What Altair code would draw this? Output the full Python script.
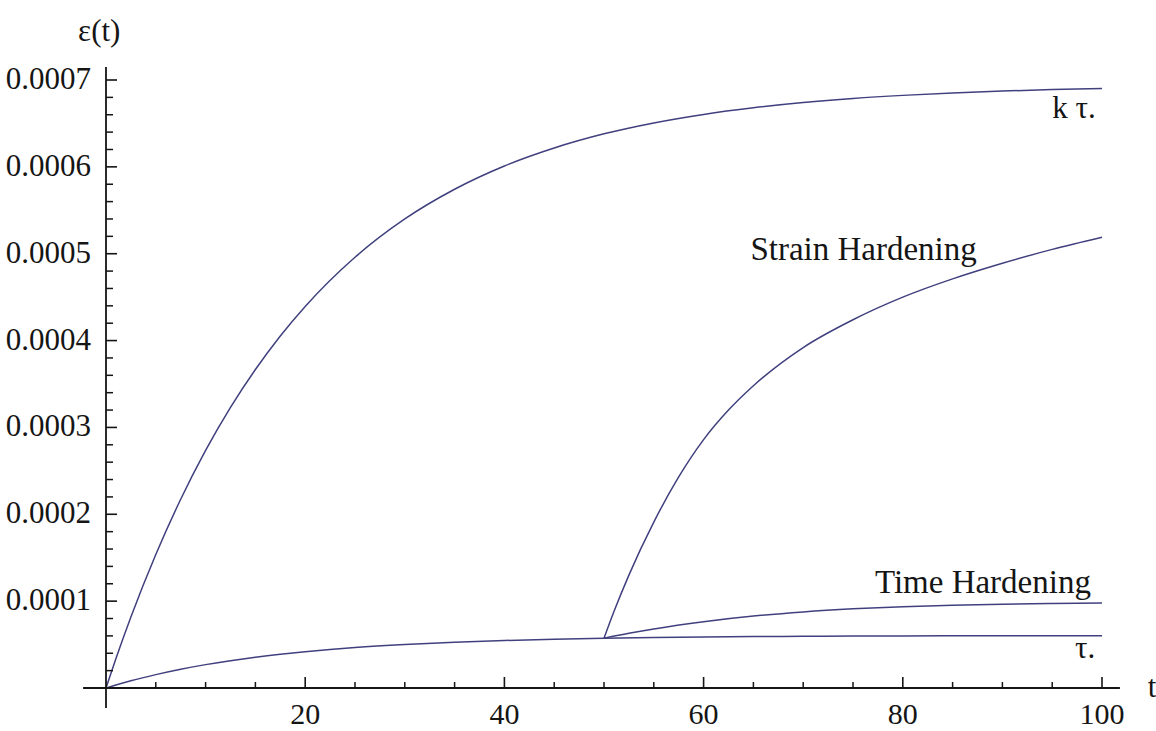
import altair as alt
import pandas as pd

# ---- creep curves -------------------------------------------------------
t_main = [0, 1, 2.5, 5, 7.5, 10, 12.5, 15, 17.5, 20, 25, 30, 35, 40, 45, 50,
          55, 60, 65, 70, 75, 80, 85, 90, 95, 100]

# creep under the raised stress (k tau)
eps_ktau = [0.0, 0.0000339, 0.0000817, 0.0001537, 0.0002173, 0.0002735,
            0.000323, 0.0003667, 0.0004053, 0.0004393, 0.0004959, 0.00054,
            0.0005742, 0.000601, 0.0006217, 0.000638, 0.0006506, 0.0006604,
            0.000668, 0.000674, 0.0006787, 0.0006823, 0.0006851, 0.0006873,
            0.000689, 0.0006903]

# creep under the base stress (tau)
eps_tau = [0.0, 0.00000345, 0.0000083, 0.0000154, 0.0000216, 0.0000269,
           0.0000315, 0.0000355, 0.0000389, 0.0000418, 0.0000466, 0.0000501,
           0.0000528, 0.0000547, 0.0000562, 0.0000573, 0.0000581, 0.0000587,
           0.0000592, 0.0000595, 0.0000598, 0.00006, 0.0000601, 0.0000602,
           0.0000603, 0.0000603]

# stress raised at t = 50: strain-hardening prediction
t_strain = [50, 51, 52.5, 55, 57.5, 60, 62.5, 65, 70, 75, 80, 85, 90, 95, 100]
eps_strain = [0.0000573, 0.000088, 0.00013, 0.000191, 0.000243, 0.000286,
              0.00032, 0.000348, 0.000392, 0.000424, 0.00045, 0.000471,
              0.000489, 0.000505, 0.000519]

# stress raised at t = 50: time-hardening prediction
t_time = [50, 52.5, 55, 60, 65, 70, 75, 80, 85, 90, 95, 100]
eps_time = [0.0000573, 0.000063, 0.000068, 0.0000763, 0.0000828, 0.0000876,
            0.0000911, 0.0000936, 0.0000953, 0.0000965, 0.0000973, 0.0000979]

# ---- axes ---------------------------------------------------------------
x_major = [20, 40, 60, 80, 100]
x_major_labels = ["20", "40", "60", "80", "100"]
x_minor = [5, 10, 15, 25, 30, 35, 45, 50, 55, 65, 70, 75, 85, 90, 95]

y_major = [0.0001, 0.0002, 0.0003, 0.0004, 0.0005, 0.0006, 0.0007]
y_major_labels = ["0.0001", "0.0002", "0.0003", "0.0004", "0.0005",
                  "0.0006", "0.0007"]
y_minor = [k * 0.00002 for k in range(1, 35) if k % 5 != 0]

x_axis_span = [-2.3, 101.8]
y_axis_span = [-0.000023, 0.000715]

# ---- text annotations ---------------------------------------------------
notes = pd.DataFrame([
    {"text": "ε(t)", "t": -2.8, "eps": 0.000745, "fs": 31},
    {"text": "t", "t": 104.6, "eps": -0.0000104, "fs": 31},
    {"text": "k τ.", "t": 95.0, "eps": 0.000656, "fs": 31},
    {"text": "Strain Hardening", "t": 64.7, "eps": 0.000493, "fs": 33},
    {"text": "Time Hardening", "t": 77.2, "eps": 0.0001094, "fs": 33},
    {"text": "τ.", "t": 97.3, "eps": 0.0000345, "fs": 31},
])

FONT = "Liberation Serif"
INK = "#151515"
CURVE = "#40407f"

xs = alt.Scale(domain=[0, 100], nice=False, zero=False)
ys = alt.Scale(domain=[0, 0.0007], nice=False, zero=False)


def X(field):
    return alt.X(field, type="quantitative", scale=xs, axis=None)


def Y(field):
    return alt.Y(field, type="quantitative", scale=ys, axis=None)


X0 = alt.X(datum=0, type="quantitative", scale=xs, axis=None)
Y0 = alt.Y(datum=0, type="quantitative", scale=ys, axis=None)

curves = pd.concat([
    pd.DataFrame({"t": t_main, "eps": eps_ktau, "series": "k tau"}),
    pd.DataFrame({"t": t_main, "eps": eps_tau, "series": "tau"}),
    pd.DataFrame({"t": t_strain, "eps": eps_strain, "series": "strain"}),
    pd.DataFrame({"t": t_time, "eps": eps_time, "series": "time"}),
], ignore_index=True)

lines = alt.Chart(curves).mark_line(
    color=CURVE, strokeWidth=1.5, interpolate="monotone"
).encode(x=X("t"), y=Y("eps"), detail="series:N", order="t:Q")

x_axis_line = alt.Chart(pd.DataFrame({"a": [x_axis_span[0]], "b": [x_axis_span[1]]})).mark_rule(
    color=INK, strokeWidth=1.8
).encode(x=X("a"), x2="b", y=Y0)

y_axis_line = alt.Chart(pd.DataFrame({"a": [y_axis_span[0]], "b": [y_axis_span[1]]})).mark_rule(
    color=INK, strokeWidth=1.8
).encode(y=Y("a"), y2="b", x=X0)

x_ticks_major = alt.Chart(pd.DataFrame({"v": x_major})).mark_rule(
    color=INK, strokeWidth=1.6, y2Offset=-11
).encode(x=X("v"), y=Y0, y2=alt.Y2Datum(0))

x_ticks_minor = alt.Chart(pd.DataFrame({"v": x_minor})).mark_rule(
    color=INK, strokeWidth=1.5, y2Offset=-6
).encode(x=X("v"), y=Y0, y2=alt.Y2Datum(0))

y_ticks_major = alt.Chart(pd.DataFrame({"v": y_major})).mark_rule(
    color=INK, strokeWidth=1.6, x2Offset=11
).encode(y=Y("v"), x=X0, x2=alt.X2Datum(0))

y_ticks_minor = alt.Chart(pd.DataFrame({"v": y_minor})).mark_rule(
    color=INK, strokeWidth=1.5, x2Offset=7
).encode(y=Y("v"), x=X0, x2=alt.X2Datum(0))

x_labels = alt.Chart(pd.DataFrame({"v": x_major, "lab": x_major_labels})).mark_text(
    font=FONT, fontSize=30, color=INK, align="center", baseline="alphabetic", dy=36
).encode(x=X("v"), y=Y0, text="lab:N")

y_labels = alt.Chart(pd.DataFrame({"v": y_major, "lab": y_major_labels})).mark_text(
    font=FONT, fontSize=31, color=INK, align="right", baseline="alphabetic", dx=-15, dy=9
).encode(y=Y("v"), x=X0, text="lab:N")

note_marks = alt.Chart(notes).mark_text(
    font=FONT, color=INK, align="left", baseline="alphabetic"
).encode(x=X("t"), y=Y("eps"), text="text:N", size=alt.Size("fs:Q", scale=None, legend=None))

chart = alt.layer(
    lines, x_axis_line, y_axis_line, x_ticks_major, x_ticks_minor,
    y_ticks_major, y_ticks_minor, x_labels, y_labels, note_marks
).properties(
    width=996, height=608,
    padding={"left": 106, "top": 80, "right": 54, "bottom": 43},
    autosize=alt.AutoSizeParams(type="none"),
    background="white",
).configure_view(stroke=None)

chart.save("out.html", embed_options={"renderer": "svg", "actions": False})
